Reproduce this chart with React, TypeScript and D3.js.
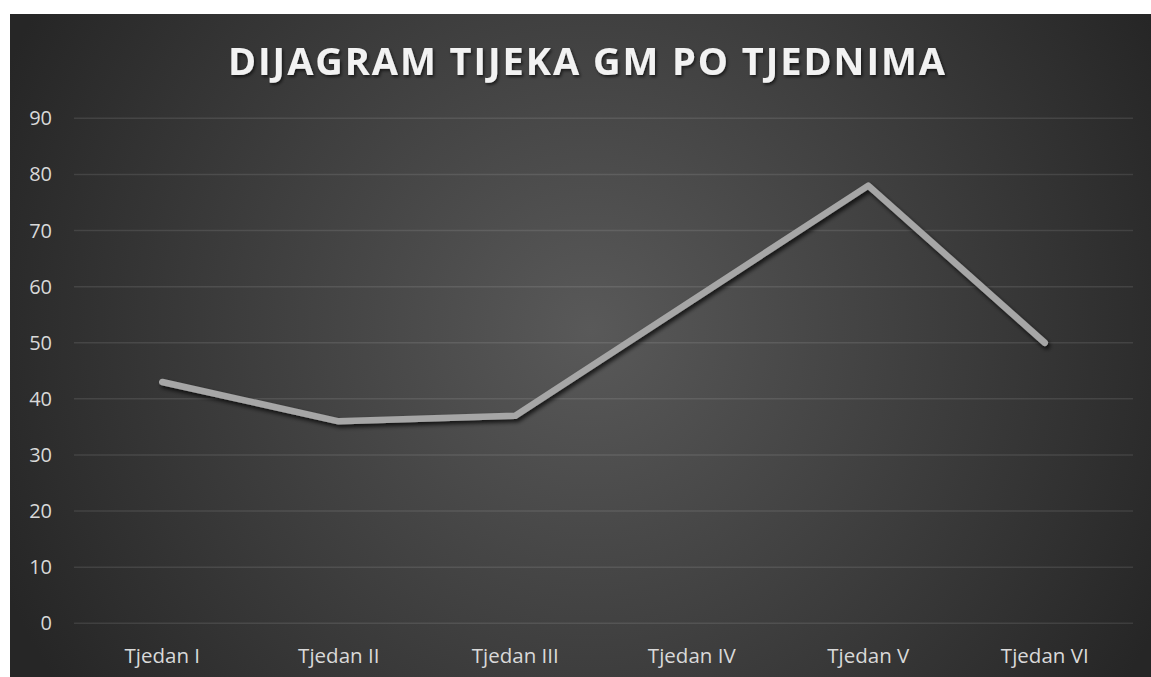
import React from "react";
import * as d3 from "d3";

const categories = ["Tjedan I", "Tjedan II", "Tjedan III", "Tjedan IV", "Tjedan V", "Tjedan VI"];
const values = [43, 36, 37, 57.5, 78, 50];
const yTicks = [0, 10, 20, 30, 40, 50, 60, 70, 80, 90];
const title = "DIJAGRAM TIJEKA GM PO TJEDNIMA";

const W = 1151;
const H = 677;
const box = { x: 10, y: 14, w: 1141, h: 670 };
const plot = { left: 74, right: 1133, top: 118.3, bottom: 623.3 };
const FONT = "'Open Sans', 'Noto Sans', sans-serif";

export default function App() {
  const x = d3.scaleBand<string>().domain(categories).range([plot.left, plot.right]).padding(0);
  const y = d3.scaleLinear().domain([0, 90]).range([plot.bottom, plot.top]);
  const line = d3
    .line<number>()
    .x((_, i) => (x(categories[i]) as number) + x.bandwidth() / 2)
    .y((d) => y(d));
  const path = line(values) || "";

  return (
    <svg
      width={W}
      height={H}
      style={{ position: "absolute", left: 0, top: 0, display: "block" }}
    >
      <defs>
        <radialGradient id="bg" gradientUnits="userSpaceOnUse" cx={590} cy={330} r={640}>
          <stop offset="0" stopColor="#595959" />
          <stop offset="0.55" stopColor="#3d3d3d" />
          <stop offset="1" stopColor="#262626" />
        </radialGradient>
        <filter id="lineShadow" x="-10%" y="-20%" width="120%" height="140%">
          <feDropShadow dx="2" dy="3" stdDeviation="2" floodColor="#000" floodOpacity="0.75" />
        </filter>
        <filter id="textShadow" x="-5%" y="-30%" width="110%" height="160%">
          <feDropShadow dx="1.5" dy="2" stdDeviation="1.5" floodColor="#000" floodOpacity="0.6" />
        </filter>
      </defs>
      <rect x={0} y={0} width={W} height={H} fill="#ffffff" />
      <rect x={box.x} y={box.y} width={box.w} height={box.h} fill="url(#bg)" />

      {yTicks.map((t) => (
        <g key={t}>
          <line
            x1={plot.left}
            x2={plot.right}
            y1={y(t)}
            y2={y(t)}
            stroke="rgba(255,255,255,0.1)"
            strokeWidth={1.5}
          />
          <text
            x={52}
            y={y(t) + 7}
            textAnchor="end"
            fontFamily={FONT}
            fontSize={20}
            fill="#d9d9d9"
          >
            {t}
          </text>
        </g>
      ))}

      {categories.map((c) => (
        <text
          key={c}
          x={(x(c) as number) + x.bandwidth() / 2}
          y={663}
          textAnchor="middle"
          fontFamily={FONT}
          fontSize={20.5}
          fill="#d9d9d9"
        >
          {c}
        </text>
      ))}

      <path
        d={path}
        fill="none"
        stroke="#a6a6a6"
        strokeWidth={6.5}
        strokeLinecap="round"
        strokeLinejoin="round"
        filter="url(#lineShadow)"
      />

      <text
        x={586.5}
        y={75}
        textAnchor="middle"
        fontFamily={FONT}
        fontWeight="bold"
        fontSize={38}
        fill="#f2f2f2"
        textLength={717}
        lengthAdjust="spacing"
        filter="url(#textShadow)"
      >
        {title}
      </text>
    </svg>
  );
}
